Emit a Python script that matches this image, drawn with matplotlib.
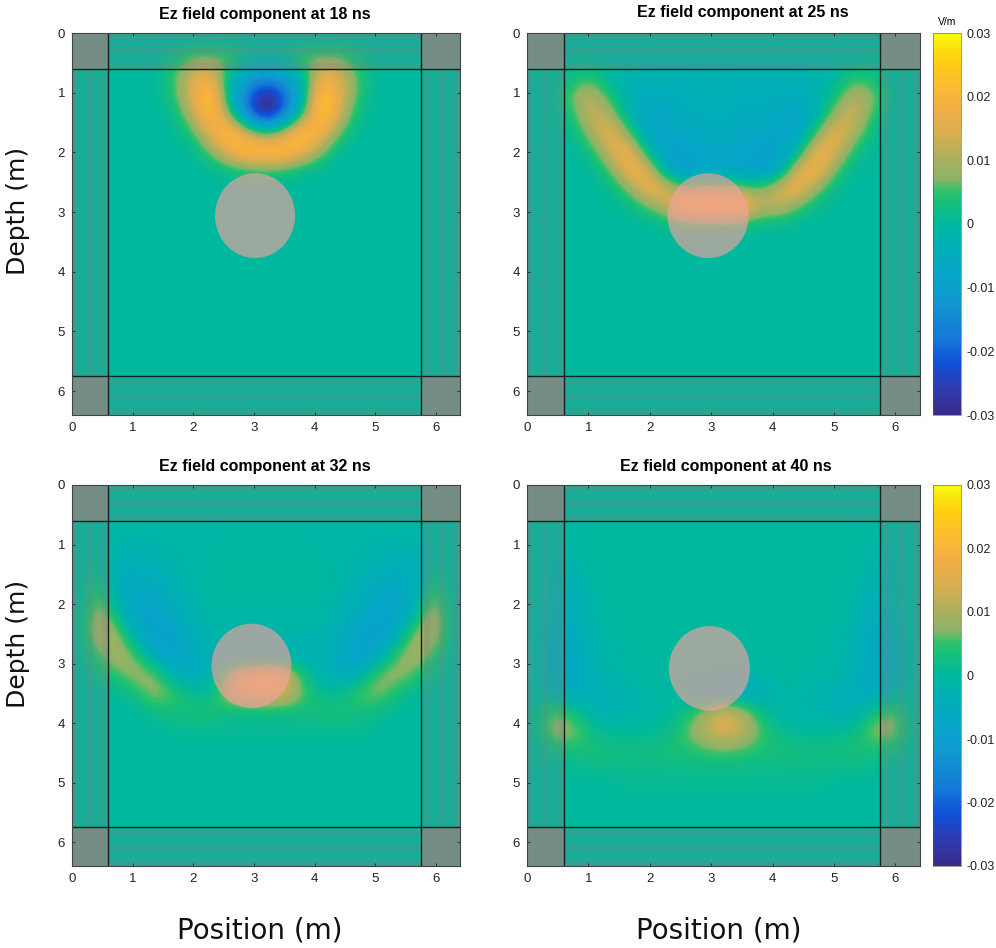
import matplotlib
matplotlib.use("Agg")
import matplotlib.pyplot as plt
import numpy as np
from matplotlib.colors import LinearSegmentedColormap
from matplotlib.patches import Ellipse, Rectangle

plt.rcParams["font.family"] = ["Liberation Sans", "DejaVu Sans"]

W, H = 996, 948

titles = ["Ez field component at 18 ns", "Ez field component at 25 ns",
          "Ez field component at 32 ns", "Ez field component at 40 ns"]
ticks = [0, 1, 2, 3, 4, 5, 6]
cbar_ticks = [-0.03, -0.02, -0.01, 0, 0.01, 0.02, 0.03]
cbar_labels = ["-0.03", "-0.02", "-0.01", "0", "0.01", "0.02", "0.03"]

# field, mV/m, 21 x 21 cells over 6.4 m
ez_18 = [
    [0, 0, 0, 0, 0, 0, 0, 0, 0, 0, 0, 0, 0, 0, 0, 0, 0, 0, 0, 0, 0],
    [0, 0, 0, 0, 0, 2, 7, 8, 6, 1, -1, 1, 6, 8, 7, 2, 0, 0, 0, 0, 0],
    [0, 0, 0, 0, 0, 5, 15, 20, -2, -10, -15, -10, -2, 20, 15, 5, 0, 0, 0, 0, 0],
    [0, 0, 0, 0, 0, 4, 15, 27, -2, -20, -32, -22, -2, 27, 15, 4, 0, 0, 0, 0, 0],
    [0, 0, 0, 0, 0, 1, 11, 25, 8, -18, -32, -18, 6, 27, 13, 1, 0, 0, 0, 0, 0],
    [0, 0, 0, 0, 0, 0, 4, 16, 26, 14, 4, 14, 26, 18, 5, 0, 0, 0, 0, 0, 0],
    [0, 0, 0, 0, 0, 0, 0, 7, 18, 25, 26, 25, 18, 7, 0, 0, 0, 0, 0, 0, 0],
    [0, 0, 0, 0, 0, 0, 0, 0, 2, 4, 5, 4, 1, 0, 0, 0, 0, 0, 0, 0, 0],
] + [[0] * 21 for _ in range(13)]

ez_25 = [
    [0] * 21,
    [0, 0, 0, 0, -1, -1, -1, -1, -1, -1, -1, -1, -1, -1, -1, -1, -1, 0, 0, 0, 0],
    [0, 0, 3, 5, -1, -2, -3, -3, -3, -3, -3, -3, -3, -3, -3, -2, -1, 5, 3, 0, 0],
    [0, 0, 8, 12, 3, -3, -5, -4, -4, -3, -3, -4, -4, -4, -5, -3, 3, 12, 8, 0, 0],
    [0, 0, 4, 15, 10, -3, -8, -6, -5, -4, -4, -5, -5, -6, -8, -3, 10, 15, 4, 0, 0],
    [0, 0, 1, 10, 18, 6, -8, -8, -6, -5, -5, -6, -7, -8, -8, 6, 18, 10, 1, 0, 0],
    [0, 0, 0, 3, 15, 19, -1, -10, -9, -7, -7, -8, -9, -10, -1, 19, 15, 3, 0, 0, 0],
    [0, 0, 0, 0, 6, 20, 15, -6, -12, -8, -8, -10, -12, -6, 15, 20, 6, 0, 0, 0, 0],
    [0, 0, 0, 0, 1, 8, 20, 14, 6, 8, 8, 8, 6, 14, 20, 8, 1, 0, 0, 0, 0],
    [0, 0, 0, 0, 0, 1, 6, 13, 22, 24, 24, 22, 12, 13, 6, 1, 0, 0, 0, 0, 0],
    [0, 0, 0, 0, 0, 0, 0, 1, 3, 3, 3, 3, 1, 1, 0, 0, 0, 0, 0, 0, 0],
] + [[0] * 21 for _ in range(10)]

ez_32 = [
    [0] * 21,
    [0] * 21,
    [0, 0, -1, -1, -1, -1, -1, -1, -1, -1, -1, -1, -1, -1, -1, -1, -1, -1, -1, 0, 0],
    [0, 0, -2, -2, -2, -1, -1, -1, 0, 0, 0, 0, 0, -1, -1, -1, -2, -2, -2, 0, 0],
    [0, 1, -4, -4, -3, -2, -1, 0, 0, 0, 0, 0, 0, 0, -1, -2, -3, -4, -4, 1, 0],
    [0, 4, -5, -6, -5, -3, -1, 0, 0, 0, 0, 0, 0, 0, -1, -3, -5, -6, -5, 4, 0],
    [0, 8, -3, -8, -7, -4, -2, 0, 0, 0, 0, 0, 0, 0, -2, -4, -7, -9, -4, 9, 0],
    [0, 12, 3, -8, -10, -6, -3, -1, -1, -1, -1, -1, -1, -1, -3, -6, -10, -9, 2, 12, 0],
    [0, 11, 10, -3, -10, -9, -4, -2, -2, -2, -2, -2, -2, -2, -4, -9, -10, -3, 10, 10, 0],
    [0, 5, 10, 7, -5, -10, -6, -3, -4, -4, -4, -4, -3, -3, -6, -10, -6, 7, 10, 4, 0],
    [0, 2, 5, 9, 8, -3, -5, -3, 9, 16, 18, 16, 3, -2, -4, -3, 8, 9, 5, 1, 0],
    [0, 0, 0, 3, 9, 6, 1, 1, 11, 16, 16, 14, 6, 1, 1, 6, 8, 3, 0, 0, 0],
    [0, 0, 0, 0, 2, 3, 4, 4, 2, 1, 2, 2, 3, 4, 4, 3, 2, 0, 0, 0, 0],
    [0, 0, 0, 0, 0, 1, 1, 1, 1, 1, 1, 1, 1, 1, 1, 1, 0, 0, 0, 0, 0],
] + [[0] * 21 for _ in range(7)]

ez_40 = [
    [0] * 21,
    [0] * 21,
    [0] * 21,
    [0, -1, -1, 0, 0, 0, 0, 0, 0, 0, 0, 0, 0, 0, 0, 0, 0, 0, -1, -1, 0],
    [0, -2, -2, 0, 0, 0, 0, 0, 0, 0, 0, 0, 0, 0, 0, 0, 0, 0, -2, -2, 0],
    [0, -2, -3, -1, 0, 0, 0, 0, 0, 0, 0, 0, 0, 0, 0, 0, 0, -1, -3, -2, 0],
    [0, -2, -4, -1, 0, 0, 0, 0, 0, 0, 0, 0, 0, 0, 0, 0, 0, -1, -4, -2, 0],
    [0, -3, -5, -1, 0, 0, 0, 0, 0, 0, 0, 0, 0, 0, 0, 0, 0, -1, -5, -3, 0],
    [0, -4, -6, -2, -1, 0, 0, 0, 0, 0, 0, 0, 0, 0, 0, 0, -1, -2, -6, -4, 0],
    [0, -5, -7, -2, -1, 0, 0, 0, 0, 0, 0, 0, 0, 0, 0, 0, -1, -2, -7, -5, 0],
    [0, -5, -7, -3, -2, -1, 0, 0, -1, -1, -2, -2, -1, 0, 0, -1, -1, -3, -7, -5, 0],
    [0, -2, -5, -4, -3, -2, -1, 0, -1, -4, -5, -6, -5, -1, -1, -2, -3, -4, -6, -2, 0],
    [0, 7, 2, -2, -3, -2, -1, 0, 2, 8, 15, 10, 2, -1, -1, -2, -3, -3, 2, 7, 0],
    [0, 10, 8, 2, 0, 0, 0, 1, 6, 12, 16, 13, 6, 1, 0, 0, 0, 1, 8, 10, 0],
    [0, 3, 4, 4, 3, 3, 3, 4, 4, 6, 7, 6, 4, 4, 3, 3, 3, 4, 4, 3, 0],
    [0, 0, 1, 2, 2, 2, 2, 2, 2, 2, 2, 2, 2, 2, 2, 2, 2, 2, 1, 0, 0],
    [0, 0, 0, 0, 0, 1, 1, 1, 1, 1, 1, 1, 1, 1, 1, 1, 0, 0, 0, 0, 0],
] + [[0] * 21 for _ in range(4)]

fields = [ez_18, ez_25, ez_32, ez_40]

# pixel boxes of the panels: left, top, right, bottom
boxes = [(72, 33, 460, 415), (527, 33, 920, 415), (72, 485, 460, 866), (527, 485, 920, 866)]
cbar_boxes = [(933, 33, 961, 415), (933, 485, 961, 866)]
title_xy = [(265, 15), (743, 13), (265, 466), (726, 466)]
circle_xy = [(3.02, 3.06), (2.95, 3.06), (2.96, 3.04), (2.97, 3.08)]

cmap = LinearSegmentedColormap.from_list("ez", [
    (0.0, "#3a2a8a"), (5 / 60, "#2a3fb8"), (8 / 60, "#0f50d8"), (12 / 60, "#1478d8"),
    (18 / 60, "#1199cf"), (22 / 60, "#06a5c8"), (27 / 60, "#00b0b4"), (30 / 60, "#00b89f"),
    (34 / 60, "#1ac074"), (35.5 / 60, "#3cc068"), (37 / 60, "#8ab468"), (40 / 60, "#a8b060"),
    (44 / 60, "#d8ae50"), (48 / 60, "#f0ae48"), (52 / 60, "#fdbb30"), (56 / 60, "#fdd010"),
    (1.0, "#f8fa0d"),
])


def px_axes(fig, box):
    l, t, r, b = box
    return fig.add_axes([l / W, 1 - b / H, (r - l) / W, (b - t) / H])


fig = plt.figure(figsize=(W / 100, H / 100), dpi=100)

for i in range(4):
    ax = px_axes(fig, boxes[i])
    im = ax.imshow(np.array(fields[i]) / 1000, cmap=cmap, vmin=-0.03, vmax=0.03,
                   extent=[0, 6.4, 6.4, 0], interpolation="bicubic", aspect="auto")

    # absorbing layers around the domain, slightly striped
    for a, b, alpha in [(0, 0.1, 0.4), (0.1, 0.25, 0.2), (0.25, 0.35, 0.35), (0.35, 0.5, 0.2), (0.5, 0.6, 0.35)]:
        ax.add_patch(Rectangle((0.6, a), 5.15, b - a, fc="#808080", ec="none", alpha=alpha))
        ax.add_patch(Rectangle((0.6, 6.4 - b), 5.15, b - a, fc="#808080", ec="none", alpha=alpha))
        ax.add_patch(Rectangle((a, 0.6), b - a, 5.15, fc="#808080", ec="none", alpha=alpha))
        ax.add_patch(Rectangle((6.4 - b, 0.6), b - a, 5.15, fc="#808080", ec="none", alpha=alpha))
    for x0 in (0, 5.75):
        for y0 in (0, 5.75):
            w = 0.6 if x0 == 0 else 0.65
            h = 0.6 if y0 == 0 else 0.65
            ax.add_patch(Rectangle((x0, y0), w, h, fc="#828a84", ec="none", alpha=0.9))

    ax.add_patch(Ellipse(circle_xy[i], 1.32, 1.42, fc="#f0a2a0", ec="none", alpha=0.65))

    ax.axhline(0.6, color="#10201c", lw=1)
    ax.axhline(5.75, color="#10201c", lw=1)
    ax.axvline(0.6, color="#10201c", lw=1)
    ax.axvline(5.75, color="#10201c", lw=1)

    ax.set_xlim(0, 6.4)
    ax.set_ylim(6.4, 0)
    ax.set_xticks(ticks)
    ax.set_yticks(ticks)
    ax.tick_params(direction="in", length=2, width=0.6, labelsize=9.5, top=True, right=True,
                   colors="#222222", pad=5)
    for s in ax.spines.values():
        s.set_color("#444444")
        s.set_linewidth(0.8)

    fig.text(title_xy[i][0] / W, 1 - title_xy[i][1] / H, titles[i], ha="center", va="center",
             fontsize=11.5, fontweight="bold")

    if i % 2 == 1:
        cax = px_axes(fig, cbar_boxes[i // 2])
        cb = fig.colorbar(im, cax=cax)
        cb.set_ticks(cbar_ticks)
        cb.set_ticklabels(cbar_labels)
        cb.ax.tick_params(length=0, labelsize=9, pad=4, colors="#222222")
        cb.outline.set_linewidth(0.4)
        cb.outline.set_edgecolor("#555555")

fig.text(947 / W, 1 - 22 / H, "V/m", ha="center", va="center", fontsize=7.5)

for y in (211, 644):
    fig.text(18 / W, 1 - y / H, "Depth (m)", rotation=90, ha="center", va="center",
             fontsize=18, family="DejaVu Sans", color="#111111")
for x in (260, 719):
    fig.text(x / W, 1 - 930 / H, "Position (m)", ha="center", va="center",
             fontsize=20, family="DejaVu Sans", color="#111111")

fig.savefig("out.png", dpi=100)
